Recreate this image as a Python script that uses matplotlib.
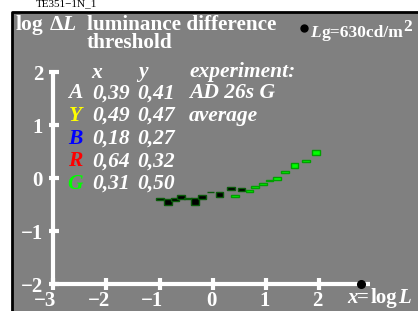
import matplotlib
matplotlib.use('Agg')
import matplotlib.pyplot as plt
from matplotlib.patches import Rectangle

# threshold data (log L, log dL, bar height)
black_x = [-0.985, -0.846, -0.714, -0.59, -0.464, -0.333, -0.195, -0.04, 0.13, 0.35, 0.54]
black_y = [-0.40, -0.45, -0.417, -0.364, -0.39, -0.45, -0.354, -0.27, -0.32, -0.21, -0.227]
black_h = [0.045, 0.11, 0.06, 0.06, 0.015, 0.14, 0.076, 0.015, 0.095, 0.057, 0.05]

green_x = [0.425, 0.69, 0.80, 0.94, 1.065, 1.21, 1.365, 1.54, 1.75, 1.94]
green_y = [-0.34, -0.244, -0.17, -0.117, -0.057, -0.013, 0.114, 0.227, 0.324, 0.485]
green_h = [0.032, 0.032, 0.032, 0.045, 0.012, 0.05, 0.038, 0.09, 0.032, 0.09]

x_ticks = [-3, -2, -1, 0, 1, 2]
y_ticks = [-2, -1, 0, 1, 2]

rows = ['A', 'Y', 'B', 'R', 'G']
row_colors = ['white', 'yellow', 'blue', 'red', '#00ff00']
row_x = ['0,39', '0,49', '0,18', '0,64', '0,31']
row_y = ['0,41', '0,47', '0,27', '0,32', '0,50']
row_note = ['AD 26s G', 'average', '', '', '']

W, H = 418, 311
X0, SX = 212.7, 53.2
Y0, SY = 177.8, 52.9


def px(p):
    return (p - X0) / SX


def py(p):
    return (Y0 - p) / SY


def txt(x, y, s, size=14, italic=False, color='white', **kw):
    ax.text(px(x), py(y), s, color=color, fontsize=size, weight='bold',
            style='italic' if italic else 'normal', va=kw.pop('va', 'baseline'), **kw)


plt.rcParams['font.family'] = ['Liberation Serif', 'DejaVu Serif']
fig = plt.figure(figsize=(W / 100, H / 100), dpi=100)
ax = fig.add_axes([0, 0, 1, 1])
ax.set_xlim(px(0), px(W))
ax.set_ylim(py(H), py(0))
ax.axis('off')

# background
ax.add_patch(Rectangle((12 / W, 0), 1, (H - 12) / H, transform=ax.transAxes,
                       facecolor='#808080', edgecolor='none', zorder=0))
ax.plot([12 / W, 12 / W, 1], [0, (H - 12) / H, (H - 12) / H], transform=ax.transAxes,
        color='black', lw=2, zorder=1)
ax.text(px(36), py(-0.5), 'TE351\u22121N_1', fontsize=8, color='black', va='top')

# axes
wc = 'white'
ax.plot([-3, -3], [-2, 2], color=wc, lw=3, zorder=2, solid_capstyle='butt')
ax.plot([-3, px(370)], [-2, -2], color=wc, lw=3, zorder=2, solid_capstyle='butt')
for t in y_ticks:
    ax.plot([px(49), px(59)], [t, t], color=wc, lw=3, zorder=2, solid_capstyle='butt')
    lab = str(t).replace('-', '\u2212')
    ax.text(px(43), t - 8.5 / SY, lab, color=wc, fontsize=15, weight='bold', ha='right', va='baseline')
for t in x_ticks:
    ax.plot([t, t], [py(278), py(290)], color=wc, lw=3, zorder=2, solid_capstyle='butt')
    lab = str(t).replace('-', '\u2212')
    ax.text(t + 3.5 / SX, py(306.5), lab, color=wc, fontsize=15, weight='bold', ha='right', va='baseline')
ax.plot([px(361)], [-2], 'o', color='black', ms=5.5, zorder=3)
txt(347, 303, 'x', 15, True)
txt(357, 303, '=', 15)
txt(371, 303, 'log', 15)
txt(398, 303, 'L', 15, True)

# title
txt(16, 30, 'log', 15.5)
txt(50, 30, '\u0394', 15.5)
txt(62, 30, 'L', 15.5, True)
txt(87, 30, 'luminance difference', 15.3)
txt(87, 48, 'threshold', 15.3)
ax.plot([px(304)], [py(28)], 'o', color='black', ms=5)
txt(310, 37, 'L', 12.5, True)
txt(322, 37, 'g=630cd/m', 12.5)
txt(403.5, 31, '2', 12.5)

# legend table
fs = 15.5
txt(97, 77.5, 'x', fs, True, ha='center')
txt(143, 77.5, 'y', fs, True, ha='center')
txt(189, 77.5, 'experiment:', fs, True)
for i, r in enumerate(rows):
    yy = 98.3 + 22.6 * i
    txt(75, yy, r, fs, True, color=row_colors[i], ha='center')
    txt(92, yy, row_x[i], fs, True)
    txt(137, yy, row_y[i], fs, True)
    if row_note[i]:
        txt(189, yy, row_note[i], fs, True)

# data bars
bw = 0.145
ax.bar(black_x, black_h, bottom=[y - h / 2 for y, h in zip(black_y, black_h)], width=bw,
       color='black', edgecolor='#0a5a0a', linewidth=1, zorder=4)
ax.bar(green_x, green_h, bottom=[y - h / 2 for y, h in zip(green_y, green_h)], width=bw,
       color='#00ff00', edgecolor='#00a000', linewidth=1, zorder=4)

fig.savefig('out.png', dpi=100)
